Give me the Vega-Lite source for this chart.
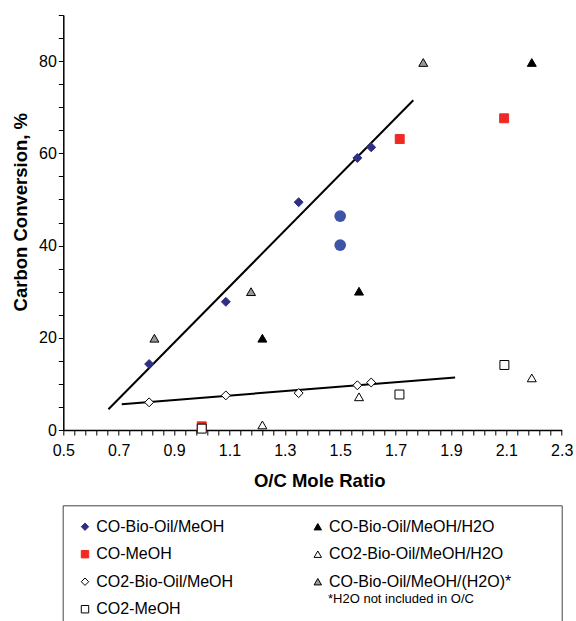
{
  "$schema": "https://vega.github.io/schema/vega-lite/v6.json",
  "autosize": "none",
  "width": 498.4,
  "height": 415,
  "padding": {"left": 63.3, "top": 15, "right": 14.3, "bottom": 191},
  "config": {
    "font": "Liberation Sans",
    "view": {"stroke": null},
    "axis": {
      "grid": false,
      "domainColor": "black",
      "domainWidth": 1.5,
      "tickColor": "black",
      "tickWidth": 1,
      "tickSize": 5,
      "labelFont": "Liberation Sans",
      "labelFontSize": 16,
      "labelColor": "black",
      "labelOverlap": false,
      "labelFlush": false,
      "titleFont": "Liberation Sans",
      "titleFontSize": 18.5,
      "titleFontWeight": "bold",
      "titleColor": "black"
    }
  },
  "encoding": {
    "x": {
      "field": "oc",
      "type": "quantitative",
      "scale": {"domain": [0.5, 2.3], "nice": false, "zero": false},
      "axis": {
        "title": "O/C Mole Ratio",
        "values": [0.5,0.54,0.58,0.62,0.66,0.7,0.74,0.78,0.82,0.86,0.9,0.94,0.98,1.02,1.06,1.1,1.14,1.18,1.22,1.26,1.3,1.34,1.38,1.42,1.46,1.5,1.54,1.58,1.62,1.66,1.7,1.74,1.78,1.82,1.86,1.9,1.94,1.98,2.02,2.06,2.1,2.14,2.18,2.22,2.26,2.3],
        "labelExpr": "round((datum.value - 0.5) * 100) % 20 == 0 ? format(datum.value, '.1f') : ''",
        "labelPadding": 7,
        "titlePadding": 13,
        "titleX": 255.9
      }
    },
    "y": {
      "field": "conv",
      "type": "quantitative",
      "scale": {"domain": [0, 90], "nice": false},
      "axis": {
        "title": "Carbon Conversion, %",
        "values": [0,5,10,15,20,25,30,35,40,45,50,55,60,65,70,75,80,85,90],
        "labelExpr": "datum.value % 20 == 0 ? datum.label : ''",
        "labelPadding": 2,
        "titlePadding": 8,
        "titleY": 196.7
      }
    }
  },
  "layer": [
    {
      "data": {"values": [
        {"oc": 0.663, "conv": 4.5, "oc2": 1.764, "conv2": 71.5, "note": "*H2O not included in O/C"},
        {"oc": 0.711, "conv": 5.6, "oc2": 1.915, "conv2": 11.4, "note": "*H2O not included in O/C"}
      ]},
      "mark": {"type": "rule", "strokeWidth": 2},
      "encoding": {
        "x2": {"field": "oc2"},
        "y2": {"field": "conv2"},
        "color": {
          "field": "note",
          "type": "nominal",
          "scale": {"range": ["black"]},
          "legend": {
            "orient": "none",
            "legendX": -0.6,
            "legendY": 490.3,
            "title": null,
            "padding": 87.2,
            "strokeColor": "#444444",
            "symbolSize": 0,
            "symbolStrokeWidth": 0,
            "symbolOpacity": 0,
            "labelOffset": 165.1,
            "labelFontSize": 13,
            "labelFont": "Liberation Sans",
            "labelColor": "black",
            "labelLimit": 500
          }
        }
      }
    },
    {
      "data": {"values": [
        {"oc": 0.81, "conv": 14.3, "series": "CO-Bio-Oil/MeOH"},
        {"oc": 1.087, "conv": 27.8, "series": "CO-Bio-Oil/MeOH"},
        {"oc": 1.35, "conv": 49.4, "series": "CO-Bio-Oil/MeOH"},
        {"oc": 1.562, "conv": 59.0, "series": "CO-Bio-Oil/MeOH"},
        {"oc": 1.612, "conv": 61.3, "series": "CO-Bio-Oil/MeOH"},
        {"oc": 0.81, "conv": 6.0, "series": "CO2-Bio-Oil/MeOH"},
        {"oc": 1.087, "conv": 7.5, "series": "CO2-Bio-Oil/MeOH"},
        {"oc": 1.35, "conv": 8.0, "series": "CO2-Bio-Oil/MeOH"},
        {"oc": 1.562, "conv": 9.7, "series": "CO2-Bio-Oil/MeOH"},
        {"oc": 1.612, "conv": 10.3, "series": "CO2-Bio-Oil/MeOH"},
        {"oc": 1.0, "conv": 0.8, "series": "CO-MeOH"},
        {"oc": 1.715, "conv": 63.1, "series": "CO-MeOH"},
        {"oc": 2.092, "conv": 67.6, "series": "CO-MeOH"},
        {"oc": 1.0, "conv": 0.3, "series": "CO2-MeOH"},
        {"oc": 1.714, "conv": 7.7, "series": "CO2-MeOH"},
        {"oc": 2.093, "conv": 14.1, "series": "CO2-MeOH"},
        {"oc": 1.219, "conv": 19.9, "series": "CO-Bio-Oil/MeOH/H2O"},
        {"oc": 1.568, "conv": 30.1, "series": "CO-Bio-Oil/MeOH/H2O"},
        {"oc": 2.192, "conv": 79.7, "series": "CO-Bio-Oil/MeOH/H2O"},
        {"oc": 1.219, "conv": 1.1, "series": "CO2-Bio-Oil/MeOH/H2O"},
        {"oc": 1.568, "conv": 7.2, "series": "CO2-Bio-Oil/MeOH/H2O"},
        {"oc": 2.192, "conv": 11.3, "series": "CO2-Bio-Oil/MeOH/H2O"},
        {"oc": 0.829, "conv": 19.9, "series": "CO-Bio-Oil/MeOH/(H2O)*"},
        {"oc": 1.178, "conv": 30.0, "series": "CO-Bio-Oil/MeOH/(H2O)*"},
        {"oc": 1.80, "conv": 79.7, "series": "CO-Bio-Oil/MeOH/(H2O)*"}
      ]},
      "mark": {"type": "point", "filled": true, "strokeWidth": 1, "opacity": 1, "size": 80},
      "encoding": {
        "shape": {
          "field": "series",
          "type": "nominal",
          "scale": {
            "domain": ["CO-Bio-Oil/MeOH", "CO-MeOH", "CO2-Bio-Oil/MeOH", "CO2-MeOH", "CO-Bio-Oil/MeOH/H2O", "CO2-Bio-Oil/MeOH/H2O", "CO-Bio-Oil/MeOH/(H2O)*"],
            "range": ["diamond", "square", "diamond", "square", "triangle-up", "triangle-up", "triangle-up"]
          },
          "legend": {
            "orient": "none",
            "legendX": -0.5,
            "legendY": 492.7,
            "columns": 2,
            "title": null,
            "padding": 11,
            "symbolOffset": 3.2,
            "labelOffset": 3.2,
            "columnPadding": 72.8,
            "rowPadding": 11.5,
            "labelFontSize": 16,
            "labelFont": "Liberation Sans",
            "labelColor": "black",
            "labelLimit": 500,
            "symbolSize": 55,
            "symbolStrokeWidth": 1
          }
        },
        "fill": {
          "field": "series",
          "type": "nominal",
          "scale": {
            "domain": ["CO-Bio-Oil/MeOH", "CO-MeOH", "CO2-Bio-Oil/MeOH", "CO2-MeOH", "CO-Bio-Oil/MeOH/H2O", "CO2-Bio-Oil/MeOH/H2O", "CO-Bio-Oil/MeOH/(H2O)*"],
            "range": ["#2E2F86", "#EE2A24", "white", "white", "black", "white", "#999999"]
          }
        },
        "stroke": {
          "field": "series",
          "type": "nominal",
          "scale": {
            "domain": ["CO-Bio-Oil/MeOH", "CO-MeOH", "CO2-Bio-Oil/MeOH", "CO2-MeOH", "CO-Bio-Oil/MeOH/H2O", "CO2-Bio-Oil/MeOH/H2O", "CO-Bio-Oil/MeOH/(H2O)*"],
            "range": ["#2E2F86", "#EE2A24", "black", "black", "black", "black", "black"]
          }
        }
      }
    },
    {
      "data": {"values": [
        {"oc": 1.5, "conv": 46.4},
        {"oc": 1.5, "conv": 40.1}
      ]},
      "mark": {"type": "point", "shape": "circle", "filled": true, "color": "#3C55A6", "opacity": 1, "size": 137}
    }
  ]
}
